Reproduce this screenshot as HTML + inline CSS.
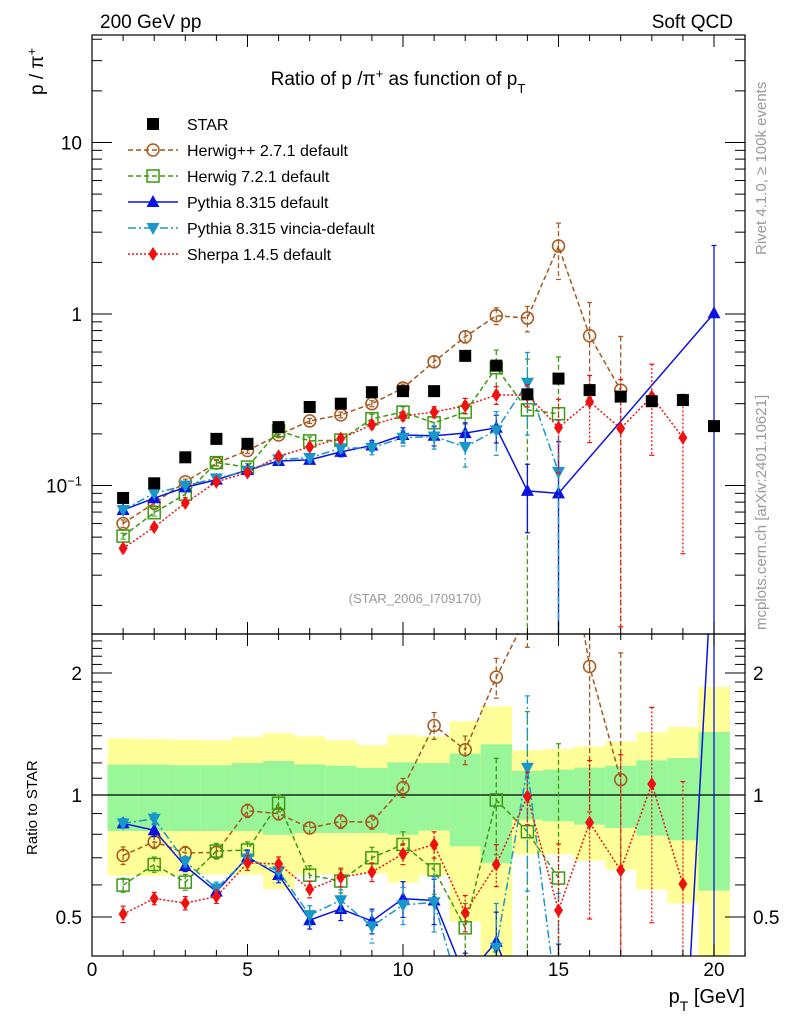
<!DOCTYPE html>
<html><head><meta charset="utf-8"><style>
html,body{margin:0;padding:0;background:#fff;overflow:hidden;width:786px;height:1024px}
svg{display:block;font-family:"Liberation Sans",sans-serif;overflow:hidden}
</style></head><body>
<svg id="c" width="786" height="1024" viewBox="0 0 786 1024" xmlns="http://www.w3.org/2000/svg">
<defs>
<clipPath id="clipTop"><rect x="92" y="35" width="653" height="599"/></clipPath>
<clipPath id="clipBot"><rect x="92" y="634" width="653" height="322"/></clipPath>
</defs>
<g id="bands" clip-path="url(#clipBot)"></g>
<g id="topMarks" clip-path="url(#clipTop)"></g>
<g id="botMarks" clip-path="url(#clipBot)"></g>
<g id="axes"></g>
<text x="100" y="28" font-size="19">200 GeV pp</text>
<text x="733" y="28" font-size="19" text-anchor="end">Soft QCD</text>
<text transform="translate(43,95) rotate(-90)" font-size="19">p / π<tspan baseline-shift="super" font-size="13">+</tspan></text>
<text x="398" y="85" font-size="19" text-anchor="middle">Ratio of p /π<tspan baseline-shift="super" font-size="13">+</tspan> as function of p<tspan baseline-shift="sub" font-size="13">T</tspan></text>
<text x="415" y="603" font-size="13" fill="#999" text-anchor="middle">(STAR_2006_I709170)</text>
<text transform="translate(766,255) rotate(-90)" font-size="15" fill="#999">Rivet 4.1.0, ≥ 100k events</text>
<text transform="translate(766,630) rotate(-90)" font-size="15" fill="#999">mcplots.cern.ch [arXiv:2401.10621]</text>
<text transform="translate(37,855) rotate(-90)" font-size="15">Ratio to STAR</text>
<text x="745" y="1003" font-size="20" text-anchor="end">p<tspan baseline-shift="sub" font-size="14">T</tspan> [GeV]</text>
<g id="legend"></g>
</svg>
<script>
const xs=[1,2,3,4,5,6,7,8,9,10,11,12,13,14,15,16,17,18,19,20];
const star=[0.0846,0.103,0.146,0.187,0.175,0.219,0.287,0.30,0.35,0.355,0.355,0.57,0.50,0.34,0.42,0.36,0.33,0.31,0.315,0.222];
const herwigpp=[0.060,0.079,0.105,0.135,0.16,0.197,0.238,0.258,0.30,0.37,0.527,0.737,0.977,0.947,2.49,0.747,0.36,null,null,null];
const herwigppErr=[0.003,0.003,0.004,0.005,0.006,0.007,0.008,0.01,0.012,0.02,0.04,0.06,0.11,0.16,0.9,0.42,0.38,null,null,null];
const herwig7=[0.0507,0.0694,0.089,0.136,0.128,0.209,0.182,0.184,0.245,0.268,0.232,0.268,0.486,0.276,0.262,null,null,null,null,null];
const herwig7Err=[0.002,0.003,0.004,0.006,0.006,0.01,0.01,0.012,0.015,0.02,0.03,0.04,0.13,0.27,0.3,null,null,null,null,null];
const pythia=[0.072,0.0843,0.0975,0.108,0.123,0.139,0.141,0.157,0.171,0.197,0.195,0.202,0.217,0.093,0.09,0,0,0,0,1.01];
const pythiaErr=[0.002,0.003,0.003,0.004,0.005,0.006,0.007,0.01,0.012,0.02,0.025,0.03,0.04,0.04,0.09,null,null,null,null,1.5];
const vincia=[0.072,0.090,0.10,0.11,0.122,0.142,0.145,0.165,0.166,0.19,0.193,0.168,0.21,0.397,0.12,null,null,null,null,null];
const vinciaErr=[0.002,0.003,0.003,0.004,0.005,0.007,0.008,0.01,0.015,0.02,0.03,0.04,0.06,0.2,0.12,null,null,null,null,null];
const sherpa=[0.043,0.0572,0.079,0.105,0.119,0.148,0.168,0.188,0.226,0.254,0.268,0.292,0.337,0.337,0.218,0.308,0.215,0.33,0.19,null];
const sherpaErr=[0.002,0.002,0.003,0.004,0.005,0.006,0.008,0.01,0.012,0.015,0.02,0.03,0.04,0.05,0.1,0.13,0.2,0.18,0.15,null];
const bandTotHi=[1.380,1.375,1.370,1.364,1.391,1.422,1.395,1.364,1.328,1.406,1.395,1.520,1.655,1.289,1.299,1.318,1.354,1.428,1.472,1.848];
const bandTotLo=[0.632,0.632,0.636,0.636,0.636,0.586,0.637,0.637,0.640,0.607,0.634,0.487,0.30,0.713,0.713,0.689,0.654,0.584,0.540,0.30];
const bandStatHi=[1.188,1.188,1.184,1.184,1.199,1.213,1.190,1.181,1.166,1.204,1.199,1.265,1.334,1.146,1.155,1.168,1.181,1.218,1.234,1.431];
const bandStatLo=[0.815,0.815,0.815,0.815,0.815,0.797,0.806,0.806,0.806,0.798,0.817,0.747,0.679,0.869,0.861,0.845,0.829,0.794,0.773,0.581];
const xTicks=[0,5,10,15,20];
const ratioTicks=[0.5,1,2];
const zeroRatioFill=0.18;

const NS='http://www.w3.org/2000/svg';
const X=v=>92+v*31.1;
const YT=v=>314-171.5*Math.log10(v);
const YB=r=>795-122*Math.log2(r);
function mk(tag,attrs,parent){const e=document.createElementNS(NS,tag);for(const k in attrs)e.setAttribute(k,attrs[k]);parent.appendChild(e);return e;}
const gBands=document.getElementById('bands'),gTop=document.getElementById('topMarks'),gBot=document.getElementById('botMarks'),gAx=document.getElementById('axes'),gLeg=document.getElementById('legend');

xs.forEach((x,i)=>{
 let r=mk('rect',{x:X(x-0.5),y:YB(bandTotHi[i]),width:31.4,height:YB(bandTotLo[i])-YB(bandTotHi[i]),fill:'#ffff99'},gBands);
 
 
 let g=mk('rect',{x:X(x-0.5),y:YB(bandStatHi[i]),width:31.4,height:YB(bandStatLo[i])-YB(bandStatHi[i]),fill:'#99f799'},gBands);
 
 
});
let one=mk('line',{x1:92,x2:745,y1:YB(1),y2:YB(1),stroke:'#000','stroke-width':1.2},gBands);



function marker(type,cx,cy,color,parent,name){
 let e;
 if(type==='sq')e=mk('rect',{x:cx-6,y:cy-6,width:12,height:12,fill:'#000'},parent);
 else if(type==='osq')e=mk('rect',{x:cx-6,y:cy-6,width:12,height:12,fill:'none',stroke:color,'stroke-width':1.5},parent);
 else if(type==='oc')e=mk('circle',{cx:cx,cy:cy,r:6,fill:'none',stroke:color,'stroke-width':1.5},parent);
 else if(type==='tu')e=mk('polygon',{points:`${cx},${cy-7} ${cx-6.5},${cy+5} ${cx+6.5},${cy+5}`,fill:color},parent);
 else if(type==='td')e=mk('polygon',{points:`${cx},${cy+7} ${cx-6.5},${cy-5} ${cx+6.5},${cy-5}`,fill:color},parent);
 else if(type==='di')e=mk('polygon',{points:`${cx},${cy-7} ${cx-4.5},${cy} ${cx},${cy+7} ${cx+4.5},${cy}`,fill:color},parent);
 
 
}
const series=[
 {name:'herwigpp',label:'Herwig++ 2.7.1 default',v:herwigpp,e:herwigppErr,c:'#a8571a',dash:'5,3',m:'oc'},
 {name:'herwig7',label:'Herwig 7.2.1 default',v:herwig7,e:herwig7Err,c:'#3c9a12',dash:'5,3',m:'osq'},
 {name:'pythia',label:'Pythia 8.315 default',v:pythia,e:pythiaErr,c:'#0a14e0',dash:'',m:'tu'},
 {name:'vincia',label:'Pythia 8.315 vincia-default',v:vincia,e:vinciaErr,c:'#1898c8',dash:'8,3,2,3',m:'td'},
 {name:'sherpa',label:'Sherpa 1.4.5 default',v:sherpa,e:sherpaErr,c:'#f01010',dash:'2,2',m:'di'}
];
function drawSeries(s,parent,Y,ratio){
 let pts=[];
 xs.forEach((x,i)=>{ if(s.v[i]==null)return;
  if(s.v[i]<=0){ if(ratio)pts.push([X(x),Y(zeroRatioFill)]); return; }
  const val=ratio?s.v[i]/star[i]:s.v[i];
  const er=s.e[i]==null?0:(ratio?s.e[i]/star[i]:s.e[i]);
  pts.push([X(x),Y(val)]);
  const lo=Math.max(val-er,1e-4),hi=val+er;
  let b=mk('line',{x1:X(x),x2:X(x),y1:Y(hi),y2:Y(lo),stroke:s.c,'stroke-width':1.3,'stroke-dasharray':s.dash},parent);
  
  
  [hi,lo].forEach(h=>{let c=mk('line',{x1:X(x)-2.5,x2:X(x)+2.5,y1:Y(h),y2:Y(h),stroke:s.c,'stroke-width':1.2},parent);
   
   });
 });
 let p=mk('polyline',{points:pts.map(q=>q.join(',')).join(' '),fill:'none',stroke:s.c,'stroke-width':1.5,'stroke-dasharray':s.dash},parent);
 
 
 xs.forEach((x,i)=>{ if(s.v[i]==null||s.v[i]<=0)return; const val=ratio?s.v[i]/star[i]:s.v[i]; marker(s.m,X(x),Y(val),s.c,parent,s.name+'-point');});
}
series.forEach(s=>drawSeries(s,gTop,YT,false));
xs.forEach((x,i)=>marker('sq',X(x),YT(star[i]),'#000',gTop,'star-point'));
series.forEach(s=>drawSeries(s,gBot,YB,true));

[[35,634],[634,956]].forEach(([t,b],k)=>{
 let r=mk('rect',{x:92,y:t,width:653,height:b-t,fill:'none',stroke:'#000','stroke-width':1.2},gAx);
 
 
 for(let v=0;v<=21;v++){const L=v%5===0?12:6;
  mk('line',{x1:X(v),x2:X(v),y1:b,y2:b-L,stroke:'#000'},gAx);
  mk('line',{x1:X(v),x2:X(v),y1:t,y2:t+L,stroke:'#000'},gAx);}
});
xTicks.forEach(v=>{let t=mk('text',{x:X(v),y:976,'font-size':19,'text-anchor':'middle'},gAx);t.textContent=v;
 
 });
for(let d=-2;d<=1;d++)for(let m=1;m<=9;m++){const v=m*Math.pow(10,d);const y=YT(v);if(y<35||y>634)continue;const L=m===1?20:10;
 mk('line',{x1:92,x2:92+L,y1:y,y2:y,stroke:'#000'},gAx);mk('line',{x1:745,x2:745-L,y1:y,y2:y,stroke:'#000'},gAx);}
[[10,'10'],[1,'1']].forEach(([v,l])=>{let t=mk('text',{x:82,y:YT(v)+7,'font-size':19,'text-anchor':'end'},gAx);t.textContent=l;
 
 });
let tm=mk('text',{x:82,y:YT(0.1)+7,'font-size':19,'text-anchor':'end'},gAx);tm.innerHTML='10<tspan baseline-shift="super" font-size="13">−1</tspan>';


[0.4,0.5,0.6,0.7,0.8,0.9,1,1.1,1.2,1.3,1.4,1.5,1.6,1.7,1.8,1.9,2,2.1,2.2,2.3,2.4].forEach(v=>{const y=YB(v);if(y<634||y>956)return;const L=(v===0.5||v===1||v===2)?20:10;
 mk('line',{x1:92,x2:92+L,y1:y,y2:y,stroke:'#000'},gAx);mk('line',{x1:745,x2:745-L,y1:y,y2:y,stroke:'#000'},gAx);});
ratioTicks.forEach(v=>{[[82,'end'],[753,'start']].forEach(([x,a])=>{let t=mk('text',{x:x,y:YB(v)+7,'font-size':19,'text-anchor':a},gAx);t.textContent=v;
 
 });});

let ly=124;
let e0=mk('g',{},gLeg);


marker('sq',153,ly,'#000',e0,'legend-marker');
let t0=mk('text',{x:187,y:ly+6,'font-size':16},e0);t0.textContent='STAR';
series.forEach((s,i)=>{const y=ly+26*(i+1);
 let g=mk('g',{},gLeg);
 
 
 mk('line',{x1:128,x2:178,y1:y,y2:y,stroke:s.c,'stroke-width':1.5,'stroke-dasharray':s.dash},g);
 marker(s.m,153,y,s.c,g,'legend-marker');
 let t=mk('text',{x:187,y:y+6,'font-size':16},g);t.textContent=s.label;});
</script>
</body></html>
